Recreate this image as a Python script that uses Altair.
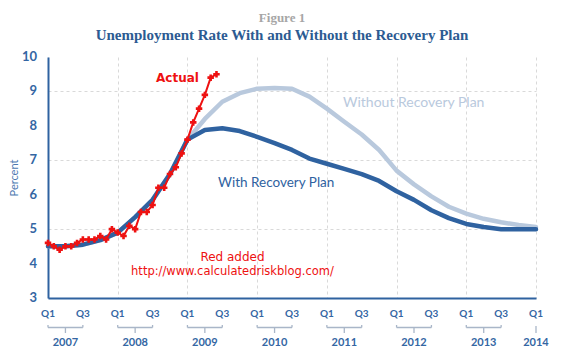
import altair as alt
import pandas as pd

# ---------------- data ----------------
quarter_idx = list(range(29))  # 0 = 2007 Q1 ... 28 = 2014 Q1
with_plan = [4.5, 4.5, 4.55, 4.68, 4.9, 5.35, 5.85, 6.6, 7.6, 7.88, 7.93, 7.85, 7.68, 7.5,
             7.3, 7.05, 6.9, 6.75, 6.6, 6.4, 6.1, 5.85, 5.55, 5.32, 5.15, 5.06, 5.0, 5.0, 5.0]
without_plan = [4.5, 4.5, 4.55, 4.68, 4.9, 5.35, 5.85, 6.6, 7.6, 8.2, 8.7, 8.95, 9.08, 9.1,
                9.08, 8.85, 8.5, 8.12, 7.75, 7.3, 6.7, 6.3, 5.95, 5.65, 5.45, 5.3, 5.2, 5.12, 5.06]
actual_monthly = [4.6, 4.5, 4.4, 4.5, 4.5, 4.6, 4.7, 4.7, 4.7, 4.8, 4.7, 5.0,
                  4.9, 4.8, 5.1, 5.0, 5.5, 5.5, 5.7, 6.2, 6.2, 6.6, 6.8, 7.2,
                  7.6, 8.1, 8.5, 8.9, 9.4, 9.5]
years = ["2007", "2008", "2009", "2010", "2011", "2012", "2013"]
last_year = "2014"
y_ticks = [3, 4, 5, 6, 7, 8, 9, 10]
x_ticks = list(range(0, 29, 2))
x_tick_labels = ["Q1" if v % 4 == 0 else "Q3" for v in x_ticks]

W, H = 488, 241
DARK = "#2f62a0"
LIGHT = "#b9c9dd"
RED = "#ee1111"
LABEL = "#3466a3"
BRACKET = "#a9b6c8"

df = pd.DataFrame({"q": quarter_idx, "with": with_plan, "without": without_plan})
act = pd.DataFrame({"q": [m / 3 for m in range(len(actual_monthly))], "v": actual_monthly})
yr = pd.DataFrame({"year": years,
                   "start": [4 * i for i in range(len(years))],
                   "end": [4 * i + 2 for i in range(len(years))],
                   "mid": [4 * i + 1 for i in range(len(years))]})
yr_last = pd.DataFrame({"year": [last_year], "mid": [28]})
xt = pd.DataFrame({"q": x_ticks, "lab": x_tick_labels})
yt = pd.DataFrame({"v": y_ticks, "lab": [str(v) for v in y_ticks]})

xscale = alt.Scale(domain=[0, 28], nice=False, zero=False)
yscale = alt.Scale(domain=[3, 10], nice=False, zero=False)

x_axis = alt.Axis(values=x_ticks, labels=False, title=None, grid=True, gridDash=[3, 3],
                  gridColor="#d9d9d9", domainColor=DARK, domainWidth=2, ticks=False)
y_axis = alt.Axis(values=y_ticks, labels=False, title="Percent", grid=True,
                  gridDash=[3, 3], gridColor="#d9d9d9", domainColor=DARK,
                  domainWidth=2, ticks=False, titleFont="Lato", titleFontSize=11,
                  titleFontWeight="normal", titleColor="#4d79b0", titleAngle=270,
                  titleX=-34, titleY=H / 2, titleAlign="center",
                  titleBaseline="middle")

base = alt.Chart(df)
grid_layer = base.mark_line(opacity=0).encode(
    x=alt.X("q:Q", scale=xscale, axis=x_axis),
    y=alt.Y("with:Q", scale=yscale, axis=y_axis))

without_line = base.mark_line(color=LIGHT, strokeWidth=4.5, strokeCap="round",
                              strokeJoin="round").encode(x="q:Q", y="without:Q")
with_line = base.mark_line(color=DARK, strokeWidth=4.5, strokeCap="round",
                           strokeJoin="round").encode(x="q:Q", y="with:Q")

act_base = alt.Chart(act)
act_line = act_base.mark_line(color=RED, strokeWidth=2).encode(x="q:Q", y="v:Q")
act_pts = act_base.mark_point(shape="cross", filled=True, color=RED, size=42,
                              opacity=1).encode(x="q:Q", y="v:Q")

# tick labels (positioned through the scales)
x_lab = alt.Chart(xt).mark_text(font="Lato", fontWeight="bold", fontSize=10,
                                color=LABEL, baseline="middle").encode(
    x="q:Q", y=alt.value(H + 16), text="lab:N")
y_lab = alt.Chart(yt).mark_text(font="Lato", fontWeight="bold", fontSize=13,
                                color=LABEL, baseline="middle", align="right").encode(
    x=alt.value(-11), y="v:Q", text="lab:N")

# year brackets below axis
yb = alt.Chart(yr)
br_h = yb.mark_rule(color=BRACKET, strokeWidth=1.3).encode(
    x="start:Q", x2="end:Q", y=alt.value(H + 29.5))
br_l = yb.mark_rule(color=BRACKET, strokeWidth=1.3).encode(
    x="start:Q", y=alt.value(H + 27), y2=alt.value(H + 29.5))
br_r = yb.mark_rule(color=BRACKET, strokeWidth=1.3).encode(
    x="end:Q", y=alt.value(H + 27), y2=alt.value(H + 29.5))
br_m = yb.mark_rule(color=BRACKET, strokeWidth=1.3).encode(
    x="mid:Q", y=alt.value(H + 29.5), y2=alt.value(H + 35))
yr_txt = yb.mark_text(font="Lato", fontWeight="bold", fontSize=11, color=LABEL,
                      baseline="middle").encode(x="mid:Q", y=alt.value(H + 45),
                                                text="year:N")
yl = alt.Chart(yr_last)
yl_tick = yl.mark_rule(color=BRACKET, strokeWidth=1.3).encode(
    x="mid:Q", y=alt.value(H + 28), y2=alt.value(H + 35))
yl_txt = yl.mark_text(font="Lato", fontWeight="bold", fontSize=11, color=LABEL,
                      baseline="middle").encode(x="mid:Q", y=alt.value(H + 45),
                                                text="year:N")

# annotations
def note(txt, x, y, color, size, weight="normal", font="Lato", align="left"):
    return alt.Chart(pd.DataFrame({"t": [txt]})).mark_text(
        font=font, fontSize=size, fontWeight=weight, color=color, align=align,
        baseline="middle").encode(x=alt.value(x), y=alt.value(y), text="t:N")

n1 = note("Without Recovery Plan", 295, 46, LIGHT, 14)
n2 = note("With Recovery Plan", 170, 126, DARK, 13.5)
n3 = note("Actual", 108, 21, RED, 12, "bold", "DejaVu Sans")
n4 = note("Red added", 184.5, 200, RED, 12, "normal", "DejaVu Sans", "center")
n5 = note("http://www.calculatedriskblog.com/", 184.5, 215, RED, 11.5, "normal",
          "DejaVu Sans", "center")

chart = alt.layer(
    grid_layer, without_line, with_line, act_line, act_pts, x_lab, y_lab,
    br_h, br_l, br_r, br_m, yr_txt, yl_tick, yl_txt, n1, n2, n3, n4, n5
).properties(
    width=W, height=H,
    autosize=alt.AutoSizeParams(type="none"),
    padding={"left": 40, "top": 49, "right": 26, "bottom": 52},
    title=alt.TitleParams(
        text="Figure 1", subtitle="Unemployment Rate With and Without the Recovery Plan",
        anchor="middle", dx=-10, offset=8, font="Liberation Serif", fontSize=13,
        fontWeight="bold", color="#a6a6a6", subtitleFont="Liberation Serif",
        subtitleFontSize=15, subtitleFontWeight="bold", subtitleColor="#2c5b92",
        subtitlePadding=3)
).configure_view(stroke=None)

chart.save("out.html", embed_options={"renderer": "svg", "actions": False})
